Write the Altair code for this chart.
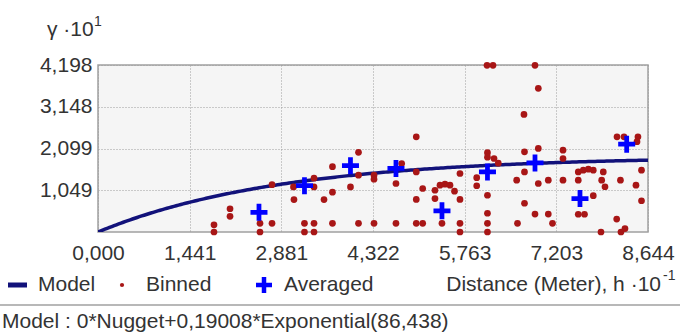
import altair as alt
import numpy as np
import pandas as pd

# Semivariogram: binned pair values, lag averages and the fitted exponential model.
# Display units: gamma * 10^1, distance h * 10^-1.

bin_x = [1.823, 1.823, 2.075, 2.075, 2.546, 2.546, 2.735, 2.735, 3.072, 3.080,
         3.245, 3.245, 3.395, 3.395, 3.395, 3.395, 3.552, 3.685, 3.685, 3.685,
         3.968, 4.094, 4.094, 4.094, 4.338, 4.338, 4.338, 4.773, 4.683, 4.683,
         5.002, 5.002, 5.002, 5.002, 5.103, 5.103, 5.296, 5.375, 5.453, 5.532,
         5.296, 5.406, 5.603, 5.689, 5.689, 5.689, 5.689, 5.952, 5.952, 6.114,
         6.208, 6.121, 6.121, 6.224, 6.291, 6.121, 6.121, 6.121, 6.121, 6.580,
         6.593, 6.695, 6.703, 6.703, 6.703, 6.868, 6.920, 6.920, 6.920, 6.868,
         7.077, 7.077, 7.143, 7.308, 7.308, 7.308, 7.548, 7.627, 7.706, 7.784,
         7.548, 7.784, 7.548, 7.646, 7.941, 7.916, 7.968, 7.905, 8.211, 8.152,
         8.219, 8.282, 8.157, 8.267, 8.486, 8.471, 8.455, 8.542, 8.542]
bin_y = [0.181, 0.000, 0.584, 0.395, 0.219, 0.000, 1.189, 0.219, 1.133, 0.816,
         0.219, 0.000, 1.352, 1.133, 0.219, 0.000, 0.816, 1.000, 1.642, 0.219,
         1.133, 2.002, 1.428, 0.219, 1.428, 1.327, 0.219, 1.722, 1.219, 0.219,
         2.392, 1.511, 0.818, 0.219, 0.219, 1.093, 1.050, 1.176, 1.201, 1.176,
         0.841, 0.219, 1.025, 1.471, 0.818, 0.219, 0.000, 1.365, 1.163, 4.190,
         4.190, 1.994, 1.881, 1.848, 1.730, 0.924, 0.471, 0.219, 0.000, 1.302,
         0.219, 2.956, 2.015, 1.511, 0.723, 4.190, 3.611, 2.100, 1.219, 0.451,
         1.302, 0.451, 0.219, 2.057, 1.848, 1.302, 1.511, 1.554, 1.579, 1.554,
         1.302, 0.912, 0.446, 0.446, 1.511, 1.302, 1.138, 0.000, 1.302, 0.325,
         0.000, 0.086, 2.392, 2.392, 2.392, 2.271, 1.176, 1.554, 0.786]

avg_x = [2.530, 3.245, 3.968, 4.683, 5.406, 6.121, 6.868, 7.575, 8.309]
avg_y = [0.496, 1.163, 1.667, 1.597, 0.534, 1.511, 1.735, 0.841, 2.208]

x_ticks = [0.0, 1.441, 2.881, 4.322, 5.763, 7.203, 8.644]
y_ticks = [1.049, 2.099, 3.148, 4.198]
y_min = 0.0

# Fitted model: 0*Nugget + 0.19008*Exponential(86.438)
nugget = 0.0
partial_sill = 0.19008
model_range = 86.438

h = np.linspace(0.0, x_ticks[-1], 240)
gamma = 10.0 * (nugget + partial_sill * (1.0 - np.exp(-3.0 * (h * 10.0) / model_range)))

FONT = "Liberation Sans"
TEXT = "#333333"
FS = 21
LABEL_EXPR = "replace(format(datum.value, '.3f'), '.', ',')"

W, H = 550, 167
PAD_L, PAD_T = 98, 65

x_scale = alt.Scale(domain=[x_ticks[0], x_ticks[-1]], nice=False, zero=False)
y_scale = alt.Scale(domain=[y_min, y_ticks[-1]], nice=False, zero=False)

grid = dict(grid=True, gridColor="#9c9c9c", gridDash=[1, 2], gridWidth=1,
            domain=False, ticks=False, title=None, labelFont=FONT,
            labelFontSize=FS, labelColor=TEXT, labelExpr=LABEL_EXPR,
            labelOverlap=False, labelFlush=False)

x_axis = alt.Axis(values=x_ticks, labelPadding=10, **grid)
y_axis = alt.Axis(values=y_ticks, labelPadding=6, **grid)

model_df = pd.DataFrame({"h": h, "gamma": gamma})
bin_df = pd.DataFrame({"h": bin_x, "gamma": bin_y})
avg_df = pd.DataFrame({"h": avg_x, "gamma": avg_y})

PLUS = "M-1,-0.28H-0.28V-1H0.28V-0.28H1V0.28H0.28V1H-0.28V0.28H-1Z"
NAVY = "#12127a"
RED = "#a81616"
BLUE = "#0000ff"

model_line = alt.Chart(model_df).mark_line(
    color=NAVY, strokeWidth=3.5, clip=True
).encode(
    x=alt.X("h:Q", scale=x_scale, axis=x_axis),
    y=alt.Y("gamma:Q", scale=y_scale, axis=y_axis),
)

binned = alt.Chart(bin_df).mark_circle(
    size=45, color=RED, opacity=1
).encode(
    x=alt.X("h:Q", scale=x_scale),
    y=alt.Y("gamma:Q", scale=y_scale),
)

averaged = alt.Chart(avg_df).mark_point(
    shape=PLUS, size=289, filled=True, color=BLUE, opacity=1, strokeWidth=0
).encode(
    x=alt.X("h:Q", scale=x_scale),
    y=alt.Y("gamma:Q", scale=y_scale),
)


def text(label, x, y, size=FS, align="left"):
    """Free text placed in page pixels."""
    return alt.Chart(pd.DataFrame({"t": [label]})).mark_text(
        font=FONT, fontSize=size, color=TEXT, align=align, baseline="middle"
    ).encode(
        text="t:N", x=alt.value(x - PAD_L), y=alt.value(y - PAD_T)
    )


one = pd.DataFrame({"k": [0]})

# y-axis caption
y_title = text("γ ·10", 47, 30) + text("1", 94, 22, size=14)

# legend row
LEG_Y = 285
leg_line = alt.Chart(one).mark_rule(color=NAVY, strokeWidth=5).encode(
    x=alt.value(8 - PAD_L), x2=alt.value(27 - PAD_L), y=alt.value(LEG_Y - PAD_T)
)
leg_dot = alt.Chart(one).mark_circle(size=18, color=RED, opacity=1).encode(
    x=alt.value(122 - PAD_L), y=alt.value(LEG_Y - PAD_T)
)
leg_plus = alt.Chart(one).mark_point(
    shape=PLUS, size=256, filled=True, color=BLUE, opacity=1, strokeWidth=0
).encode(x=alt.value(264 - PAD_L), y=alt.value(LEG_Y - PAD_T))

legend = (
    leg_line + text("Model", 38, LEG_Y) + leg_dot + text("Binned", 146, LEG_Y)
    + leg_plus + text("Averaged", 284, LEG_Y)
    + text("Distance (Meter), h ·10", 661, LEG_Y, align="right")
    + text("-1", 663, LEG_Y - 9, size=14)
)

separator = alt.Chart(one).mark_rule(color="#a0a0a0", strokeWidth=1.5).encode(
    x=alt.value(0 - PAD_L), x2=alt.value(680 - PAD_L), y=alt.value(305 - PAD_T)
)

model_text = text("Model : 0*Nugget+0,19008*Exponential(86,438)", 2, 322)

chart = alt.layer(
    model_line, binned, averaged, y_title, legend, separator, model_text
).properties(
    width=W, height=H,
    autosize=alt.AutoSizeParams(type="none"),
    padding={"left": PAD_L, "top": PAD_T, "right": 680 - PAD_L - W, "bottom": 336 - PAD_T - H},
    background="white",
).configure_view(
    fill="#f5f5f5", stroke="#a0a0a0", strokeWidth=1.5
)

chart.save("out.html", embed_options={"renderer": "svg", "actions": False})
